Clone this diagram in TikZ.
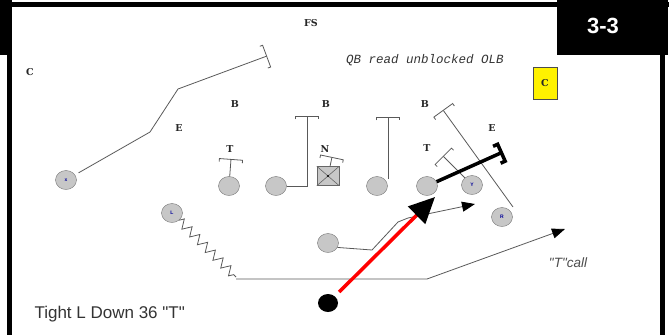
\documentclass[tikz,border=0pt]{standalone}
\usepackage{fontspec}
\setsansfont{Liberation Sans}
\newfontfamily\plainsans{Liberation Sans}
\newfontfamily\slab{Liberation Mono}
\newfontfamily\heavy{DejaVu Serif}
\usetikzlibrary{arrows.meta,shapes.geometric,decorations.pathmorphing}

\begin{document}
\begin{tikzpicture}[x=1pt,y=-1pt,
  man/.style={ellipse,draw=black!55,fill=black!22,minimum width=21pt,minimum height=19pt,inner sep=0pt,
    font=\sffamily\bfseries\fontsize{5}{5}\selectfont,text=blue!60!black},
  dlabel/.style={font=\heavy\bfseries\fontsize{9.5}{9.5}\selectfont,text=black!85},
  rt/.style={draw=black!65,line width=0.8pt},
  blk/.style={rt,-{Bracket[width=24pt,length=3pt]}},
  go/.style={rt,-{Triangle[length=13pt,width=10pt,color=black]}}
  ]
  \useasboundingbox (0,0) rectangle (669,335);
  % frame
  \fill[black] (0,0) rectangle (12,55);
  \fill[black] (0,2) rectangle (669,7);
  \fill[black] (7,55) rectangle (12,335);
  \fill[black] (557,0) rectangle (668,55);
  \fill[black] (660,55) rectangle (665,335);
  \node[font=\sffamily\bfseries\fontsize{22}{22}\selectfont,text=white] (num) at (603,26) {3-3};

  % texts
  \node[font=\slab\itshape\fontsize{12.5}{12.5}\selectfont,text=black!80] (read) at (425,60) {QB read unblocked OLB};
  \node[draw=black!70,fill=yellow,minimum width=24pt,minimum height=32pt,inner sep=0pt,dlabel] (cbox) at (545,83) {C};
  \node[font=\plainsans\fontsize{17}{17}\selectfont,text=black!80,anchor=west] (play) at (31,314) {Tight L Down 36 "T"};
  \node[font=\plainsans\itshape\fontsize{13.5}{13.5}\selectfont,text=black!70] (call) at (568,263) {"T"call};

  % defense
  \node[dlabel] (fs) at (311,23) {FS};
  \node[dlabel] (cl) at (30,72) {C};
  \node[dlabel] (b1) at (235,104) {B};
  \node[dlabel] (b2) at (326,104) {B};
  \node[dlabel] (b3) at (425,104) {B};
  \node[dlabel] (e1) at (179,128) {E};
  \node[dlabel] (e2) at (492,128) {E};
  \node[dlabel] (t1) at (230,149) {T};
  \node[dlabel] (nn) at (325,149) {N};
  \node[dlabel] (t2) at (427,148) {T};

  % offense
  \node[man] (xx) at (66,180) {x};
  \node[man] (ll) at (172,213) {L};
  \node[man] (ot1) at (229,186) {};
  \node[man] (og1) at (276,186) {};
  \node[rectangle,draw=black!60,fill=black!22,minimum width=22pt,minimum height=19pt,inner sep=0pt] (ctr) at (328,176) {};
  \node[man] (og2) at (377,186) {};
  \node[man] (ot2) at (427,186) {};
  \node[man] (yy) at (472,185) {Y};
  \node[man] (rr) at (502,217) {R};
  \node[man] (hb) at (328,243) {};
  \node[ellipse,fill=black,minimum width=20pt,minimum height=18pt,inner sep=0pt] (qb) at (328,303) {};
  \draw[black!60,line width=0.6pt] (ctr.north west) -- (ctr.south east) (ctr.north east) -- (ctr.south west);
  \fill[black] (ctr) circle (1.2pt);

  % blocks
  \coordinate (c1) at (231,159);
  \coordinate (c2) at (307,116);
  \coordinate (c3) at (332,157);
  \coordinate (c4) at (388,117);
  \coordinate (c5) at (443,156);
  \coordinate (c6) at (443,110);
  \coordinate (c7) at (267,56);
  \coordinate (bs) at (513,207);
  \coordinate (ke) at (503,152);
  \draw[blk] (ot1) -- (c1);
  \draw[blk] (og1.east) -| (c2);
  \draw[blk] (ctr) -- (c3);
  \draw[blk] (og2.north east -| c4) -- (c4);
  \draw[blk] (yy) -- (c5);
  \draw[blk] (bs) -- (c6);
  \draw[blk,shorten <=4pt] (xx) -- (150,132) -- (178,89) -- (c7);
  \draw[line width=3.5pt,-{Bracket[width=22pt,length=5pt]}] (ot2) -- (ke);

  % routes
  \coordinate (zz) at (236,277);
  \coordinate (pa) at (435,197);
  \draw[rt,decorate,decoration={zigzag,segment length=11pt,amplitude=4.5pt}] (ll) -- (zz);
  \draw[go] (236,279) -- (427,279) -- (565,229);
  \draw[go] (hb.-25) -- (372,250) -- (398,222) -- (408,218) -- (475,204);
  \draw[red,line width=3.5pt,shorten <=6pt,-{Triangle[length=26pt,width=24pt,color=black]}] (qb) -- (pa);
\end{tikzpicture}
\end{document}
